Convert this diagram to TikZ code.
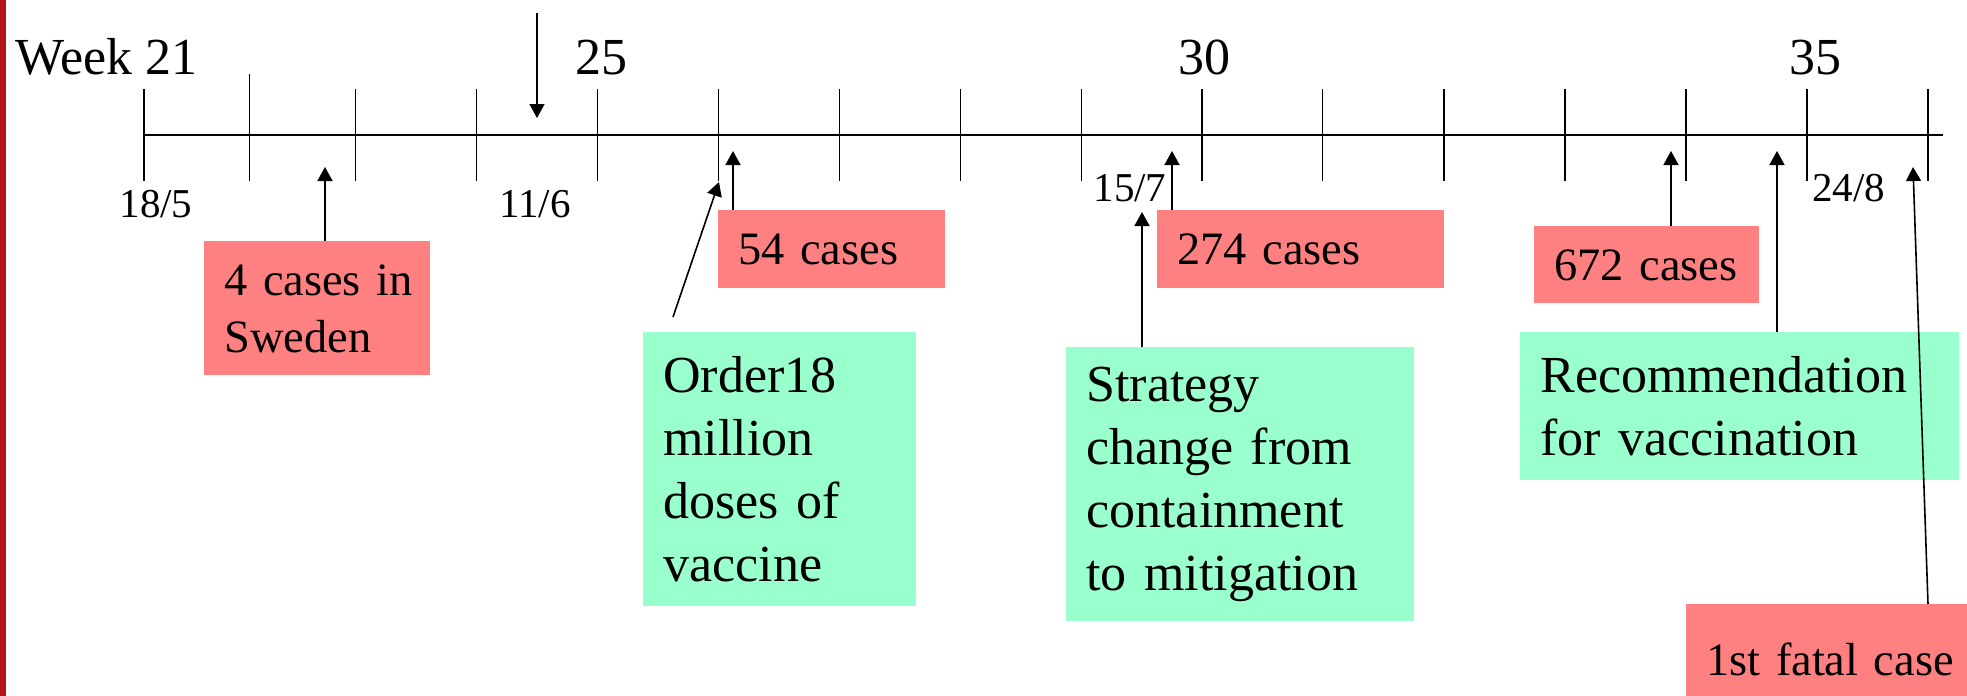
\documentclass[tikz,border=0pt]{standalone}
\usepackage{fontspec}
\setmainfont{Liberation Serif}
\usetikzlibrary{arrows.meta}
\definecolor{boxred}{RGB}{255,128,128}
\definecolor{boxgreen}{RGB}{153,255,204}
\definecolor{barred}{RGB}{178,24,24}
\hbadness=10000
\hfuzz=100pt
\begin{document}
\begin{tikzpicture}[x=0.5pt,y=-0.5pt,
  redbox/.style={fill=boxred, anchor=north west, inner xsep=10pt, inner ysep=0pt, align=left, font=\fontsize{23.2}{28.5}\selectfont},
  greenbox/.style={fill=boxgreen, anchor=north west, inner xsep=10pt, inner ysep=0pt, align=left, font=\fontsize{26}{31.5}\selectfont},
  weeklabel/.style={inner sep=0pt, anchor=base, font=\fontsize{26}{31}\selectfont},
  datelabel/.style={inner sep=0pt, anchor=base, font=\fontsize{20.5}{24}\selectfont},
  arr/.style={line width=0.8pt, -{Triangle[width=7.5pt,length=7pt]}},
  tickline/.style={line width=0.75pt},
  axisline/.style={line width=1.1pt}]
\path[use as bounding box] (0,0) rectangle (1967,696);
\clip (0,0) rectangle (1967,696);
\fill[white] (0,0) rectangle (1967,696);
\fill[barred] (0,0) rectangle (6,696);

% axis
\coordinate (axL) at (143.75,135);
\coordinate (axR) at (1943,135);
\draw[axisline] (axL) -- (axR);
\draw[tickline] (249.5,74) -- (249.5,181);
\foreach \x in {143.75,355.4,476.3,597.3,718.3,839.7,960.3,1081.25,1202.2,1322.7,1443.9,1565,1686.2,1806.9,1928.1}
  \draw[tickline] (\x,89) -- (\x,181);

% week labels
\node[weeklabel, anchor=base west] (w21) at (15,75) {Week 21};
\node[weeklabel] (w25) at (601,75) {25};
\node[weeklabel] (w30) at (1204,75) {30};
\node[weeklabel] (w35) at (1815,75) {35};

% date labels
\node[datelabel] (d185) at (156,217) {18/5};
\node[datelabel] (d116) at (535,217) {11/6};
\node[datelabel] (d157) at (1130,201) {15/7};
\node[datelabel] (d248) at (1848.5,201) {24/8};

% boxes
\node[redbox, text width=93pt, minimum height=67pt] (sweden) at (204,241) {\mbox{4 cases in}\\\mbox{Sweden}};
\node[redbox, text width=93.5pt, minimum height=39pt] (c54) at (718,210) {\mbox{54 cases}};
\node[redbox, text width=123.5pt, minimum height=39pt] (c274) at (1157,210) {\mbox{274 cases}};
\node[redbox, text width=92.5pt, minimum height=38.5pt] (c672) at (1534,226) {\mbox{672 cases}};
\node[greenbox, text width=116.5pt, minimum height=137pt] (order) at (643,332) {\mbox{Order18}\\\mbox{million}\\\mbox{doses of}\\\mbox{vaccine}};
\node[greenbox, text width=154pt, minimum height=137pt] (strategy) at (1066,347) {\mbox{Strategy}\\\mbox{change from}\\\mbox{containment}\\\mbox{to mitigation}};
\node[greenbox, text width=199.5pt, minimum height=74pt] (recom) at (1520,332) {\mbox{Recommendation}\\\mbox{for vaccination}};
\node[redbox, text width=125pt, minimum height=55pt] (fatal) at (1686,604) {\mbox{1st fatal case}};

% arrow targets
\coordinate (tTop) at (537,13);
\coordinate (tDown) at (537,118);
\coordinate (tSweden) at (325,167);
\coordinate (t54) at (733,151);
\coordinate (oStart) at (673,317);
\coordinate (tOrder) at (719,182);
\coordinate (t274) at (1172,151);
\coordinate (tStrat) at (1142,212);
\coordinate (t672) at (1671,151);
\coordinate (tRecom) at (1777,151);
\coordinate (fStart) at (1928,604);
\coordinate (tFatal) at (1913,167);

% arrows
\draw[arr] (tTop) -- (tDown);
\draw[arr] (sweden.north -| tSweden) -- (tSweden);
\draw[arr] (c54.north -| t54) -- (t54);
\draw[arr] (oStart) -- (tOrder);
\draw[arr] (c274.north -| t274) -- (t274);
\draw[arr] (strategy.north -| tStrat) -- (tStrat);
\draw[arr] (c672.north -| t672) -- (t672);
\draw[arr] (recom.north -| tRecom) -- (tRecom);
\draw[arr] (fStart) -- (tFatal);
\end{tikzpicture}
\end{document}
